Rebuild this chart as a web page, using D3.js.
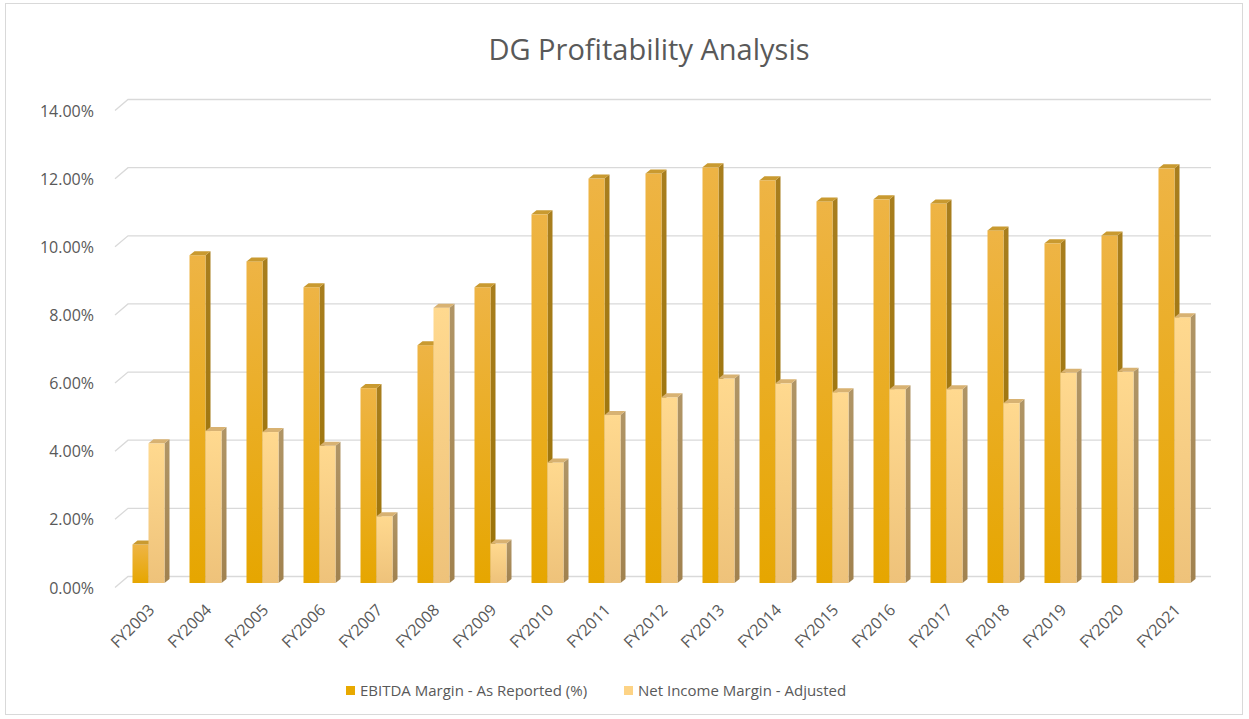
<!DOCTYPE html>
<html>
<head>
<meta charset="utf-8">
<script src="https://cdn.jsdelivr.net/npm/d3@7"></script>
<style>
    body { margin: 0; background: #fff; }
    #chart text { font-family: "Open Sans", "Liberation Sans", sans-serif; fill: #595959; }
</style>
</head>
<body>
<div id="chart"></div>
<script>
var years = ["FY2003", "FY2004", "FY2005", "FY2006", "FY2007", "FY2008", "FY2009", "FY2010", "FY2011", "FY2012",
    "FY2013", "FY2014", "FY2015", "FY2016", "FY2017", "FY2018", "FY2019", "FY2020", "FY2021"];
var ebitda = [1.13, 9.62, 9.44, 8.68, 5.72, 6.98, 8.68, 10.82, 11.87, 12.02,
    12.2, 11.82, 11.2, 11.26, 11.14, 10.35, 9.97, 10.2, 12.17];
var netIncome = [4.1, 4.46, 4.43, 4.03, 1.96, 8.08, 1.16, 3.54, 4.93, 5.45,
    6.0, 5.86, 5.6, 5.69, 5.69, 5.28, 6.17, 6.2, 7.8];
var seriesNames = ["EBITDA Margin - As Reported (%)", "Net Income Margin - Adjusted"];
var yTicks = [0, 2, 4, 6, 8, 10, 12, 14];

var width = 1249,
    height = 719;
var cfg = {
    barWidth: 16,
    depthX: 5,
    depthY: 4,
    wallX: 13,
    wallY: 11,
    barShiftY: 6.5
};

var svg = d3.select("#chart").append("svg")
    .attr("width", width)
    .attr("height", height);

// chart frame
svg.append("rect")
    .attr("x", 5.5)
    .attr("y", 3.5)
    .attr("width", 1237)
    .attr("height", 711)
    .style("fill", "none")
    .style("stroke", "#d9d9d9");

var defs = svg.append("defs");
function grad(id, c1, c2) {
    var g = defs.append("linearGradient")
        .attr("id", id)
        .attr("x1", 0).attr("y1", 0)
        .attr("x2", 0).attr("y2", 1);
    g.append("stop").attr("offset", "0%").attr("stop-color", c1);
    g.append("stop").attr("offset", "100%").attr("stop-color", c2);
}
grad("g-front-0", "#eeb445", "#e6a600");
grad("g-front-1", "#ffd98f", "#eec27a");
grad("g-side-0", "#a87e1e", "#9a7206");
grad("g-side-1", "#b09566", "#a1824f");

var colours = {
    front: ["url(#g-front-0)", "url(#g-front-1)"],
    side: ["url(#g-side-0)", "url(#g-side-1)"],
    top: ["#c99a30", "#d8b272"],
    legend: ["#e8a900", "#fdd385"]
};

// back wall scale and front face scale
var yBack = d3.scaleLinear()
    .domain([0, 14])
    .range([576.5, 576.5 - 14 * 34.07]);
var x = d3.scaleBand()
    .domain(years)
    .range([120, 1203]);

var plotLeft = 128,
    plotRight = 1211;

// title
svg.append("text")
    .attr("x", 649)
    .attr("y", 60)
    .attr("text-anchor", "middle")
    .style("font-size", "29px")
    .text("DG Profitability Analysis");

// gridlines with the slanted floor edge
svg.append("g").selectAll("path")
    .data(yTicks)
    .enter().append("path")
    .attr("d", function(d) {
        var yy = yBack(d);
        return "M" + (plotLeft - cfg.wallX) + "," + (yy + cfg.wallY) +
            "L" + plotLeft + "," + yy +
            "L" + plotRight + "," + yy;
    })
    .style("fill", "none")
    .style("stroke", "#d9d9d9")
    .style("stroke-width", 1.3);

// y axis labels
var yAxis = d3.axisLeft(yBack)
    .tickValues(yTicks)
    .tickSize(0)
    .tickPadding(0)
    .tickFormat(function(d) {
        return d.toFixed(2) + "%";
    });
var yAxisElem = svg.append("g")
    .attr("transform", "translate(" + [94, cfg.wallY + 0.5] + ")")
    .call(yAxis);
yAxisElem.select(".domain").remove();
yAxisElem.selectAll("text")
    .attr("font-family", null)
    .style("font-size", "16px");

// x axis labels
var xAxis = d3.axisBottom(x)
    .tickSize(0);
var xAxisElem = svg.append("g")
    .attr("transform", "translate(0,590)")
    .call(xAxis);
xAxisElem.select(".domain").remove();
xAxisElem.selectAll("text")
    .attr("font-family", null)
    .style("font-size", "16px")
    .attr("x", 0)
    .attr("y", 0)
    .attr("dy", 0)
    .attr("text-anchor", "end")
    .attr("transform", "translate(7,21) rotate(-45)");

// bars
var rows = years.map(function(year, i) {
    return { year: year, values: [ebitda[i], netIncome[i]] };
});
function yFront(v) {
    return yBack(v) + cfg.barShiftY;
}
var groups = svg.append("g")
    .selectAll("g")
    .data(rows)
    .enter().append("g");

[0, 1].forEach(function(s) {
    var bars = groups.append("g");
    var dx = cfg.depthX,
        dy = cfg.depthY;
    function x0(d) {
        return x(d.year) + x.bandwidth() / 2 - cfg.barWidth + s * cfg.barWidth;
    }
    bars.append("path")
        .attr("d", function(d) {
            var a = x0(d) + cfg.barWidth,
                t = yFront(d.values[s]),
                b = yFront(0);
            return "M" + a + "," + t + "L" + (a + dx) + "," + (t - dy) +
                "L" + (a + dx) + "," + (b - dy) + "L" + a + "," + b + "Z";
        })
        .style("fill", colours.side[s]);
    bars.append("rect")
        .attr("x", function(d) { return x0(d); })
        .attr("y", function(d) { return yFront(d.values[s]); })
        .attr("width", cfg.barWidth)
        .attr("height", function(d) { return yFront(0) - yFront(d.values[s]); })
        .style("fill", colours.front[s]);
    bars.append("path")
        .attr("d", function(d) {
            var a = x0(d),
                t = yFront(d.values[s]);
            return "M" + a + "," + t + "L" + (a + dx) + "," + (t - dy) +
                "L" + (a + cfg.barWidth + dx) + "," + (t - dy) +
                "L" + (a + cfg.barWidth) + "," + t + "Z";
        })
        .style("fill", colours.top[s]);
});

// legend
var legendX = [346, 624];
var legend = svg.append("g")
    .selectAll("g")
    .data(seriesNames)
    .enter().append("g")
    .attr("transform", function(d, i) {
        return "translate(" + [legendX[i], 686] + ")";
    });
legend.append("rect")
    .attr("width", 9)
    .attr("height", 9)
    .style("fill", function(d, i) { return colours.legend[i]; });
legend.append("text")
    .attr("x", 14)
    .attr("y", 9.5)
    .style("font-size", "15px")
    .text(function(d) { return d; });
</script>
</body>
</html>
